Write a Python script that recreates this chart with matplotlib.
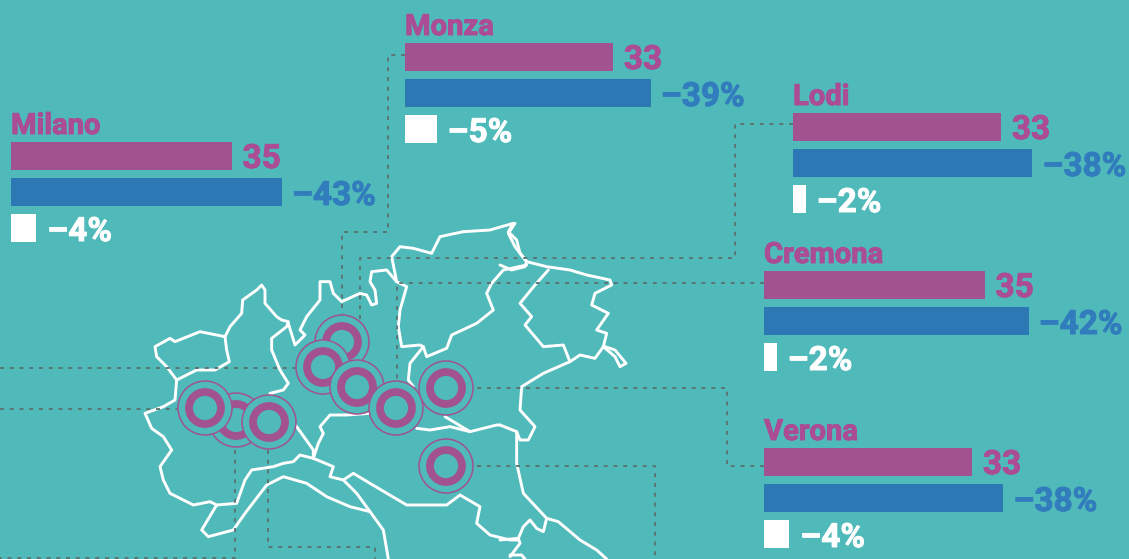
import matplotlib
matplotlib.use("Agg")
import matplotlib.pyplot as plt
import matplotlib.patheffects as pe
from matplotlib.patches import Circle

# data
cities = ["Milano", "Monza", "Lodi", "Cremona", "Verona"]
counts = [35, 33, 33, 35, 33]
drop_a = [-43, -39, -38, -42, -38]
drop_b = [-4, -5, -2, -2, -4]

# where each block sits, in image pixels
block_x = [11, 405, 793, 764, 764]
block_y = [142, 43, 113, 271, 448]
PX_PER_UNIT = 6.3

BG = "#50b9b9"
PURPLE = "#a1528f"
BLUE = "#2b78b5"
PINK_TXT = "#ab4c94"
BLUE_TXT = "#317cbd"
DOTS = "#5b7070"

fig = plt.figure(figsize=(11.29, 5.59), dpi=100, facecolor=BG)
ax = fig.add_axes([0, 0, 1, 1])
ax.set_xlim(0, 1129)
ax.set_ylim(559, 0)
ax.axis("off")


# map outlines traced on 3x crops, crop A starts at (130,210), crop B at (500,210)
def a(pts):
    return [130 + p[0] / 3 for p in pts], [210 + p[1] / 3 for p in pts]


def b(pts):
    return [500 + p[0] / 3 for p in pts], [210 + p[1] / 3 for p in pts]


outlines_a = [
    [(140, 510), (110, 470), (80, 440), (75, 410), (120, 385), (135, 395), (210, 365), (285, 380),
     (290, 420), (298, 455), (255, 480), (200, 480), (140, 510)],
    [(285, 380), (300, 350), (335, 310), (338, 270), (380, 240), (395, 225), (405, 240), (405, 280),
     (440, 320), (455, 330), (475, 335), (470, 350), (425, 385), (425, 420), (450, 480), (475, 520),
     (460, 540), (420, 550), (500, 650), (550, 720), (550, 745), (510, 735), (490, 755), (460, 760),
     (430, 770), (365, 780), (345, 810), (320, 880), (260, 885), (240, 875), (190, 885), (120, 850),
     (100, 810), (90, 770), (125, 720), (100, 680), (65, 655), (45, 610), (100, 590), (135, 570),
     (140, 510)],
    [(260, 885), (215, 960), (235, 980), (310, 960), (345, 910), (410, 825), (460, 800), (530, 820),
     (590, 860), (660, 890), (720, 905), (680, 850), (640, 810), (600, 800), (610, 770), (550, 745)],
    [(720, 905), (760, 960), (775, 1047)],
    [(640, 810), (670, 790), (720, 820), (830, 885), (900, 885), (950, 885), (990, 855), (1050, 890),
     (1040, 940), (1080, 975), (1140, 990), (1165, 990)],
    [(475, 340), (495, 405), (525, 375), (510, 360), (530, 320), (570, 270), (570, 215), (600, 215),
     (610, 250), (635, 275), (690, 250), (710, 255), (725, 285), (740, 280), (735, 240), (720, 215),
     (725, 185), (770, 180), (800, 215), (830, 230), (810, 300), (805, 350), (815, 410), (870, 405),
     (880, 410), (840, 460), (835, 510), (850, 530)],
    [(800, 215), (785, 140), (810, 110), (850, 115), (905, 130), (930, 80), (1000, 65), (1080, 60),
     (1150, 40), (1135, 65), (1160, 90), (1170, 130), (1190, 155)],
    [(880, 410), (890, 440), (950, 415), (965, 375), (1040, 340), (1090, 300), (1070, 250), (1085, 220),
     (1120, 180), (1190, 165)],
    [(550, 745), (565, 700), (580, 670), (570, 650), (600, 615), (650, 615), (720, 610)],
    [(860, 655), (900, 660), (960, 650), (1020, 665), (1100, 645), (1110, 645)],
    [(945, 620), (1020, 665)],
]
outlines_b = [
    [(45, 40), (25, 70), (45, 110), (80, 155), (140, 170), (210, 180), (260, 195), (330, 210), (335, 225),
     (285, 250), (275, 285), (325, 310), (290, 360), (320, 370), (310, 410), (285, 445), (240, 435),
     (210, 455), (130, 490), (65, 530), (60, 600), (105, 650), (85, 690), (60, 690), (50, 665), (0, 645)],
    [(0, 165), (35, 180), (75, 170), (80, 155)],
    [(145, 180), (105, 225), (60, 280), (95, 320), (75, 345), (130, 410), (190, 405), (210, 455)],
    [(310, 410), (345, 440), (360, 470), (378, 460), (345, 420), (315, 410)],
    [(50, 665), (50, 760), (70, 850), (140, 925), (175, 935), (240, 990), (290, 1020), (320, 1047)],
    [(140, 925), (130, 965), (110, 955), (90, 930), (70, 950), (55, 985), (0, 990)],
    [(55, 985), (60, 1000), (30, 1040)],
    [(30, 1035), (65, 1035), (75, 1047)],
]
for pts in outlines_a:
    ax.plot(*a(pts), color="white", lw=2.1, solid_joinstyle="round", solid_capstyle="round", zorder=1)
for pts in outlines_b:
    ax.plot(*b(pts), color="white", lw=2.1, solid_joinstyle="round", solid_capstyle="round", zorder=1)

# dotted leader lines
leaders = [
    [(0, 368), (297, 368)],
    [(0, 409), (177, 409)],
    [(405, 55), (388, 55), (388, 232), (342, 232), (342, 330)],
    [(793, 124), (735, 124), (735, 258), (360, 258), (360, 355)],
    [(764, 283), (397, 283), (397, 380)],
    [(764, 466), (727, 466), (727, 388), (477, 388)],
    [(477, 466), (655, 466), (655, 559)],
    [(235, 450), (235, 558), (0, 558)],
    [(268, 450), (268, 547), (375, 547), (375, 559)],
]
for pts in leaders:
    ax.plot([p[0] for p in pts], [p[1] for p in pts], color=DOTS, lw=1.3,
            linestyle=(0, (2.2, 3.2)), zorder=2)

# ring markers, later ones sit on top
ring_x = [236, 205, 269, 342, 323, 357, 396, 446, 446]
ring_y = [420, 408, 422, 342, 367, 387, 408, 388, 466]
for k, (cx, cy) in enumerate(zip(ring_x, ring_y)):
    z = 3 + k * 0.01
    ax.add_patch(Circle((cx, cy), 27, facecolor=BG, edgecolor=PURPLE, lw=1.1, zorder=z))
    ax.add_patch(Circle((cx, cy), 16, facecolor="none", edgecolor=PURPLE, lw=5.6, zorder=z))


def label(x, y, s, color, size):
    # a thin stroke of the same colour brings Roboto Bold up to the heavier original
    t = ax.text(x, y, s, color=color, fontsize=size, fontweight="bold", family="Roboto",
                ha="left", va="baseline", zorder=5)
    t.set_path_effects([pe.withStroke(linewidth=0.7, foreground=color)])


# bars
BAR_H = 28
for i, city in enumerate(cities):
    x0, y0 = block_x[i], block_y[i]
    ya, yb, yc = y0 + BAR_H / 2, y0 + 36 + BAR_H / 2, y0 + 72 + BAR_H / 2
    w1 = abs(counts[i]) * PX_PER_UNIT
    w2 = abs(drop_a[i]) * PX_PER_UNIT
    w3 = abs(drop_b[i]) * PX_PER_UNIT
    ax.barh(ya, w1, BAR_H, left=x0, color=PURPLE, zorder=4)
    ax.barh(yb, w2, BAR_H, left=x0, color=BLUE, zorder=4)
    ax.barh(yc, w3, BAR_H, left=x0, color="white", zorder=4)
    label(x0, y0 - 8, city, PINK_TXT, 21)
    label(x0 + w1 + 11, y0 + 26, str(counts[i]), PINK_TXT, 24)
    label(x0 + w2 + 10, y0 + 63, "\u2013%d%%" % abs(drop_a[i]), BLUE_TXT, 24)
    label(x0 + w3 + 11, y0 + 99, "\u2013%d%%" % abs(drop_b[i]), "white", 24)

fig.savefig("out.png", dpi=100, facecolor=BG)
